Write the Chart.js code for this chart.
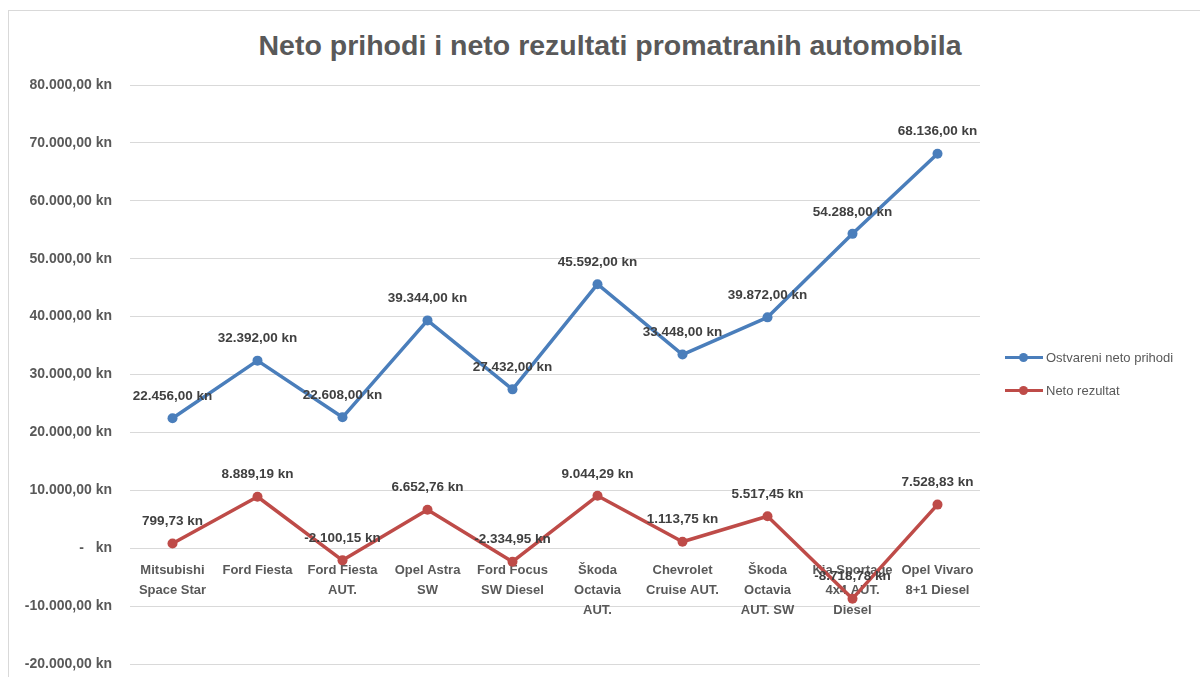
<!DOCTYPE html>
<html>
<head>
<meta charset="utf-8">
<script src="https://cdn.jsdelivr.net/npm/chart.js@4.4.0/dist/chart.umd.min.js"></script>
<style>
  body { margin: 0; background: #fff; font-family: "Liberation Sans", Arial, sans-serif; }
  #wrap { position: relative; width: 1200px; height: 677px; overflow: hidden; }
  #frame { position: absolute; left: 8px; top: 10px; width: 1300px; height: 800px; border: 1px solid #d9d9d9; }
  #title { position: absolute; top: 29px; left: 0; width: 1220px; text-align: center;
           font-weight: bold; font-size: 28.5px; line-height: 32px; color: #595959; }
  #chart { position: absolute; left: 0; top: 0; }
  #legend { position: absolute; left: 1005px; top: 346px; font-size: 13px; color: #595959; }
  #legend .item { display: flex; align-items: center; height: 22px; margin-bottom: 11px; }
  #legend .sw { position: relative; display: inline-block; width: 38px; height: 3px; margin-right: 3px; }
  #legend .sw::after { content: ''; position: absolute; left: 14px; top: -3px; width: 9px; height: 9px;
                       border-radius: 50%; background: inherit; }
</style>
</head>
<body>
<div id="wrap">
  <div id="frame"></div>
  <div id="title">Neto prihodi i neto rezultati promatranih automobila</div>
  <canvas id="chart" width="1200" height="677"></canvas>
  <div id="legend"></div>
</div>
<script>
// Car models (category labels, split into lines as in the original)
const cars = [
  ['Mitsubishi', 'Space Star'],
  'Ford Fiesta',
  ['Ford Fiesta', 'AUT.'],
  ['Opel Astra', 'SW'],
  ['Ford Focus', 'SW Diesel'],
  ['Škoda', 'Octavia', 'AUT.'],
  ['Chevrolet', 'Cruise AUT.'],
  ['Škoda', 'Octavia', 'AUT. SW'],
  ['Kia Sportage', '4x4 AUT.', 'Diesel'],
  ['Opel Vivaro', '8+1 Diesel']
];

// Series values in kn
const netRevenue = [22456, 32392, 22608, 39344, 27432, 45592, 33448, 39872, 54288, 68136];
const netResult = [799.73, 8889.19, -2100.15, 6652.76, -2334.95, 9044.29, 1113.75, 5517.45, -8718.78, 7528.83];

const seriesNames = ['Ostvareni neto prihodi', 'Neto rezultat'];
const seriesColors = ['#4a7ebb', '#be4b48'];

// Axis range
const yMin = -20000;
const yMax = 80000;
const yStep = 10000;

// Croatian accounting style: 12.345,67 kn, zero shown as a dash
function formatKn(v) {
  if (v === 0) return '-   kn';
  const parts = Math.abs(v).toFixed(2).split('.');
  const whole = parts[0].replace(/\B(?=(\d{3})+(?!\d))/g, '.');
  return (v < 0 ? '-' : '') + whole + ',' + parts[1] + ' kn';
}

// Value labels above each point
const valueLabels = {
  id: 'valueLabels',
  afterDatasetsDraw(chart) {
    const ctx = chart.ctx;
    ctx.save();
    ctx.font = 'bold 13.5px "Liberation Sans", Arial, sans-serif';
    ctx.fillStyle = '#404040';
    ctx.textAlign = 'center';
    ctx.textBaseline = 'middle';
    chart.data.datasets.forEach((ds, i) => {
      chart.getDatasetMeta(i).data.forEach((pt, j) => {
        ctx.fillText(formatKn(ds.data[j]), pt.x, pt.y - 22);
      });
    });
    ctx.restore();
  }
};

const makeDataset = (label, data, color) => ({
  label: label,
  data: data,
  borderColor: color,
  backgroundColor: color,
  borderWidth: 3.5,
  borderCapStyle: 'round',
  borderJoinStyle: 'round',
  pointRadius: 5,
  pointHoverRadius: 5,
  pointBorderWidth: 0,
  tension: 0
});

const chart = new Chart(document.getElementById('chart'), {
  type: 'line',
  data: {
    labels: cars,
    datasets: [
      makeDataset(seriesNames[0], netRevenue, seriesColors[0]),
      makeDataset(seriesNames[1], netResult, seriesColors[1])
    ]
  },
  options: {
    responsive: false,
    animation: false,
    layout: { padding: { top: 85, right: 220, bottom: 13, left: 0 } },
    plugins: {
      legend: { display: false },
      tooltip: { enabled: false },
      title: { display: false }
    },
    scales: {
      x: {
        type: 'category',
        position: { y: 0 },
        offset: true,
        grid: { display: false, drawTicks: false },
        border: { display: false },
        ticks: {
          autoSkip: false,
          maxRotation: 0,
          minRotation: 0,
          padding: 12,
          color: '#595959',
          font: { family: '"Liberation Sans", Arial, sans-serif', size: 13, weight: 'bold', lineHeight: '20px' }
        }
      },
      y: {
        min: yMin,
        max: yMax,
        grid: { color: '#d9d9d9', lineWidth: 1, drawTicks: false },
        border: { display: false },
        afterFit: function(scale) {
          scale.width = 130;
          // tick padding should only push labels left, not shrink the plot vertically
          scale.paddingTop = 8;
          scale.paddingBottom = 8;
        },
        ticks: {
          stepSize: yStep,
          padding: 18,
          color: '#595959',
          font: { family: '"Liberation Sans", Arial, sans-serif', size: 14, weight: 'bold' },
          callback: function(value) { return formatKn(value); }
        }
      }
    }
  },
  plugins: [valueLabels]
});

// Legend: line with a marker, built from the chart's datasets
const legend = document.getElementById('legend');
chart.data.datasets.forEach(ds => {
  const item = document.createElement('div');
  item.className = 'item';
  const sw = document.createElement('span');
  sw.className = 'sw';
  sw.style.background = ds.borderColor;
  item.appendChild(sw);
  item.appendChild(document.createTextNode(ds.label));
  legend.appendChild(item);
});
</script>
</body>
</html>
